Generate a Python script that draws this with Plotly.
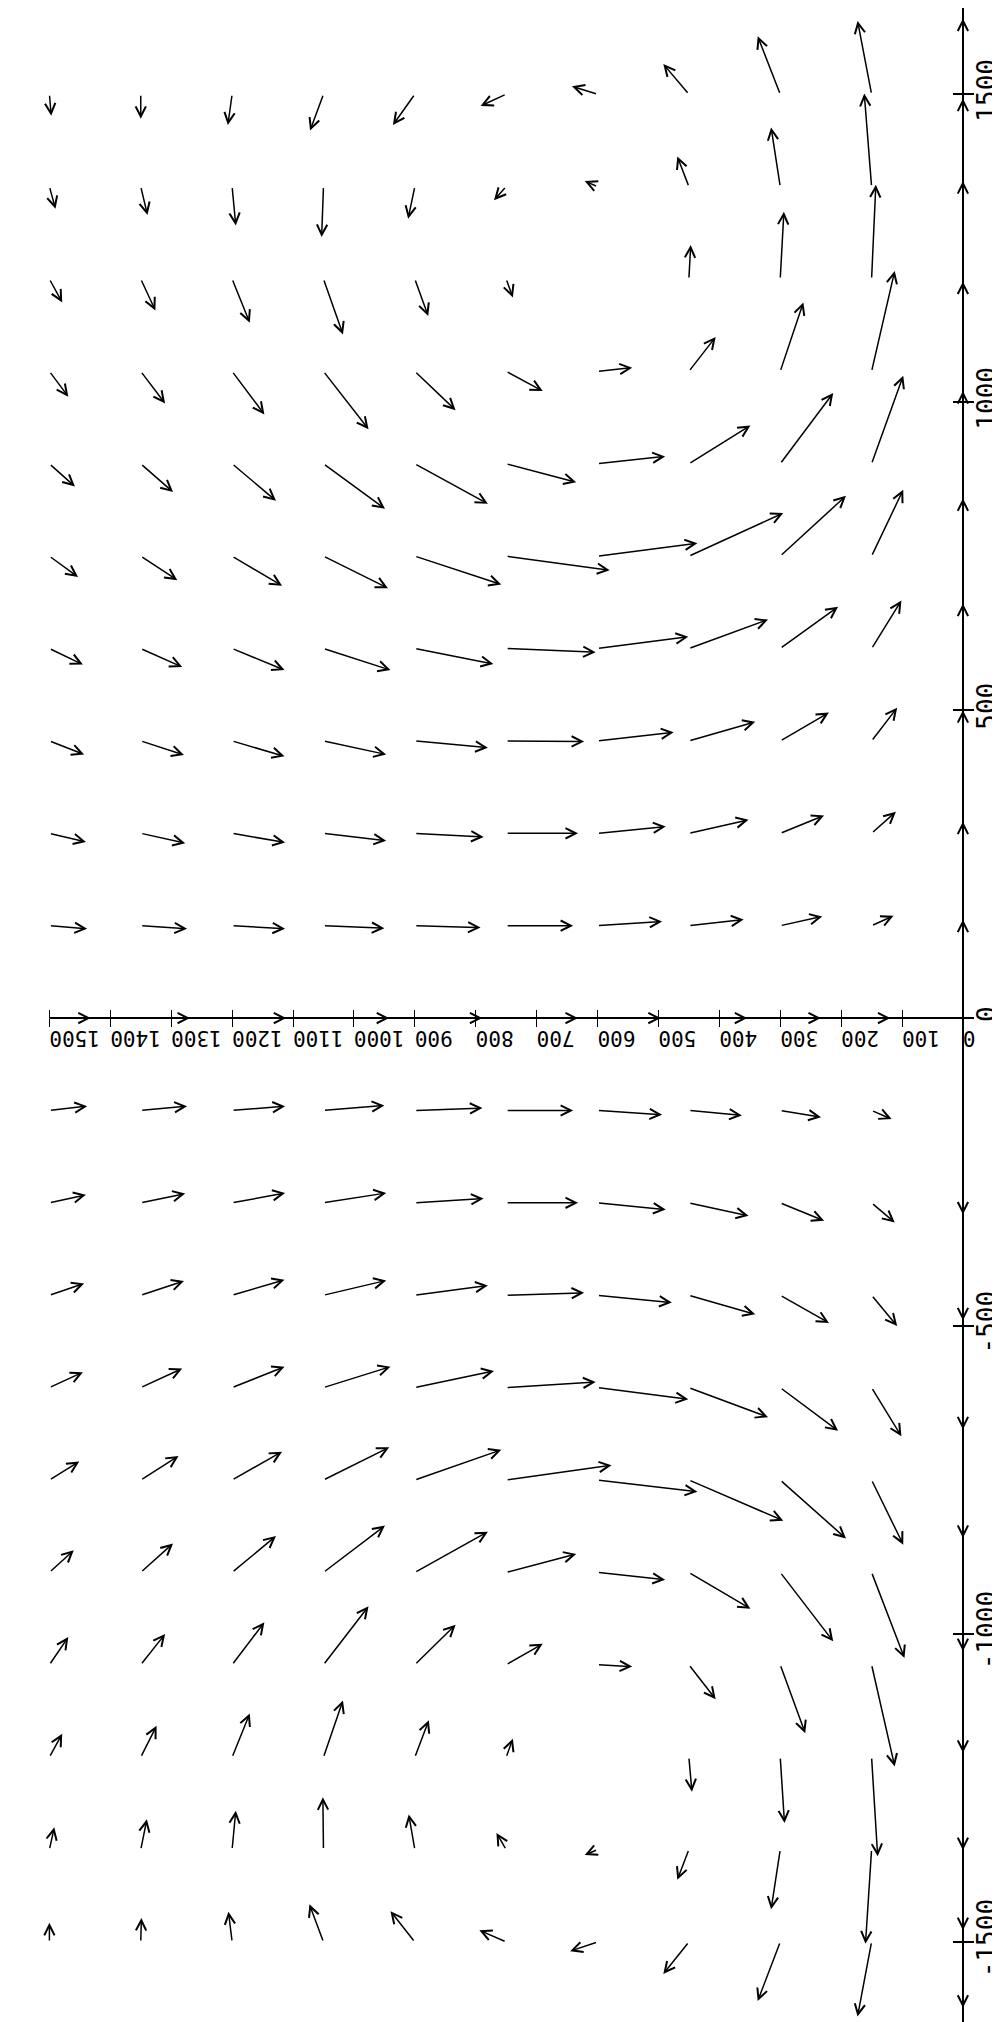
import plotly.graph_objects as go

# Field sampled on a grid. x runs along the long axis (drawn vertically),
# y is the distance from the wall (drawn right to left).
x_rows = [1500, 1350, 1200, 1050, 900, 750, 600, 450, 300, 150, 0,
          -150, -300, -450, -600, -750, -900, -1050, -1200, -1350, -1500]
y_cols = [1500, 1350, 1200, 1050, 900, 750, 600, 450, 300, 150, 0]

# x-component of each arrow (one list per row, columns as y_cols)
u = [
    [-35, -40, -50, -59, -50, -19, 13, 49, 94, 119, 123],
    [-36, -46, -63, -82, -52, -22, 9, 49, 96, 151, 143],
    [-38, -51, -71, -90, -60, -30, 0, 55, 109, 153, 159],
    [-41, -52, -70, -94, -63, -32, 6, 56, 112, 163, 146],
    [-37, -46, -60, -73, -65, -30, 12, 62, 115, 143, 118],
    [-34, -39, -48, -52, -46, -23, 21, 70, 98, 108, 94],
    [-26, -30, -35, -35, -25, -6, 19, 47, 68, 78, 73],
    [-22, -23, -25, -22, -11, -1, 14, 31, 46, 54, 50],
    [-14, -16, -15, -12, -6, 0, 11, 22, 29, 35, 19],
    [-5, -5, -5, -4, -3, 0, 7, 10, 15, 16, 10],
    [0, 0, 0, 0, 0, 0, 0, 0, 0, 0, 0],
    [7, 7, 7, 8, 4, 0, -7, -8, -11, -14, -5],
    [13, 15, 16, 16, 7, 0, -11, -21, -29, -32, -19],
    [19, 23, 25, 24, 16, 4, -12, -31, -45, -50, -41],
    [25, 31, 34, 34, 27, 9, -19, -48, -70, -79, -68],
    [30, 39, 46, 53, 49, 24, -19, -66, -95, -105, -94],
    [36, 47, 59, 76, 66, 30, -12, -59, -112, -139, -128],
    [45, 50, 69, 95, 65, 34, -3, -56, -111, -165, -143],
    [38, 51, 71, 92, 60, 30, 0, -56, -107, -161, -151],
    [36, 49, 63, 85, 57, 27, -9, -49, -97, -153, -131],
    [31, 39, 49, 61, 50, 19, -15, -52, -96, -121, -107],
]

# y-component of each arrow
v = [
    [-3, 0, 7, 22, 36, 42, 42, 42, 37, 23, 0],
    [-10, -11, -6, 3, 11, 20, 21, 19, 15, 12, 0],
    [-21, -24, -29, -32, -22, -11, 0, -3, -6, -7, 0],
    [-31, -40, -53, -74, -67, -60, -57, -44, -38, -38, 0],
    [-42, -53, -72, -101, -120, -115, -111, -101, -87, -52, 0],
    [-47, -60, -82, -106, -142, -170, -164, -155, -108, -52, 0],
    [-55, -68, -86, -110, -129, -147, -149, -130, -95, -49, 0],
    [-57, -71, -86, -103, -120, -128, -125, -109, -80, -42, 0],
    [-60, -73, -87, -103, -113, -118, -112, -98, -72, -40, 0],
    [-62, -76, -87, -100, -108, -110, -106, -90, -69, -36, 0],
    [-68, -81, -89, -108, -111, -118, -104, -96, -67, -31, 0],
    [-62, -76, -87, -100, -111, -110, -106, -87, -67, -33, 0],
    [-60, -73, -87, -103, -113, -118, -112, -98, -72, -38, 0],
    [-57, -71, -86, -103, -120, -128, -122, -109, -80, -42, 0],
    [-55, -68, -86, -110, -130, -147, -149, -130, -95, -49, 0],
    [-49, -62, -82, -108, -142, -173, -164, -155, -108, -52, 0],
    [-40, -53, -72, -101, -120, -115, -111, -101, -87, -54, 0],
    [-31, -40, -53, -74, -67, -60, -57, -44, -41, -38, 0],
    [-21, -26, -29, -32, -23, -11, 0, -5, -7, -10, 0],
    [-8, -10, -6, 1, 10, 16, 21, 19, 15, 10, 0],
    [0, -1, 6, 23, 40, 44, 45, 42, 37, 23, 0],
]

x_ticks = [-1500, -1000, -500, 0, 500, 1000, 1500]
x_labels = ["-1500", "-1000", "-500", "0", "500", "1000", "1500"]
y_ticks = list(range(0, 1501, 100))

X_LIM = [-1643, 1640]   # long axis, bottom to top
Y_LIM = [1568, -74]     # wall distance, reversed (0 on the right)

FONT = "DejaVu Sans Mono"

arrows = []
for i, xv in enumerate(x_rows):
    for j, yv in enumerate(y_cols):
        du, dv = u[i][j], v[i][j]
        if du == 0 and dv == 0:
            continue
        arrows.append(dict(
            x=yv + dv, y=xv + du, ax=yv, ay=xv,
            xref="x", yref="y", axref="x", ayref="y",
            text="", showarrow=True, arrowhead=5,
            arrowsize=1.35, arrowwidth=1.5, arrowcolor="black",
            standoff=0, startstandoff=0,
        ))

# where the two axis lines cross, as fractions of the plot area
pos_wall = (0 - Y_LIM[0]) / (Y_LIM[1] - Y_LIM[0])
pos_mid = (0 - X_LIM[0]) / (X_LIM[1] - X_LIM[0])

fig = go.Figure()
fig.add_trace(go.Scatter(x=[], y=[], showlegend=False))
fig.add_trace(go.Scatter(x=[], y=[], xaxis="x2", yaxis="y2", showlegend=False))

fig.update_layout(
    width=1000, height=2022,
    margin=dict(l=0, r=0, t=0, b=0),
    paper_bgcolor="white", plot_bgcolor="white",
    showlegend=False,
    annotations=arrows,
    shapes=[dict(type="line", xref="x", yref="y",
                 x0=y_ticks[-1], x1=y_ticks[0], y0=0, y1=0,
                 line=dict(color="black", width=2))],
    xaxis=dict(
        range=Y_LIM, anchor="free", position=pos_mid, side="bottom",
        tickmode="array", tickvals=y_ticks, ticks="outside", ticklen=8,
        tickwidth=1.3, tickcolor="black", tickangle=180,
        tickfont=dict(family=FONT, size=21, color="black"),
        showline=False, showgrid=False, zeroline=False,
    ),
    xaxis2=dict(
        range=Y_LIM, overlaying="x", anchor="free", position=pos_mid,
        tickmode="array", tickvals=y_ticks, ticks="inside", ticklen=8,
        tickwidth=1.3, tickcolor="black", showticklabels=False,
        showline=False, showgrid=False, zeroline=False,
    ),
    yaxis=dict(
        range=X_LIM, anchor="free", position=pos_wall, side="right",
        tickmode="array", tickvals=x_ticks, ticktext=x_labels,
        ticks="outside", ticklen=10, ticklabelstandoff=-9,
        tickwidth=1.5, tickcolor="black", tickangle=-90,
        tickfont=dict(family=FONT, size=26, color="black"),
        showline=True, linewidth=2.2, linecolor="black",
        showgrid=False, zeroline=False,
    ),
    yaxis2=dict(
        range=X_LIM, overlaying="y", anchor="free", position=pos_wall,
        side="right", tickmode="array", tickvals=x_ticks, ticks="inside",
        ticklen=10, tickwidth=1.5, tickcolor="black", showticklabels=False,
        showline=False, showgrid=False, zeroline=False,
    ),
)

fig.write_html("out.html")
